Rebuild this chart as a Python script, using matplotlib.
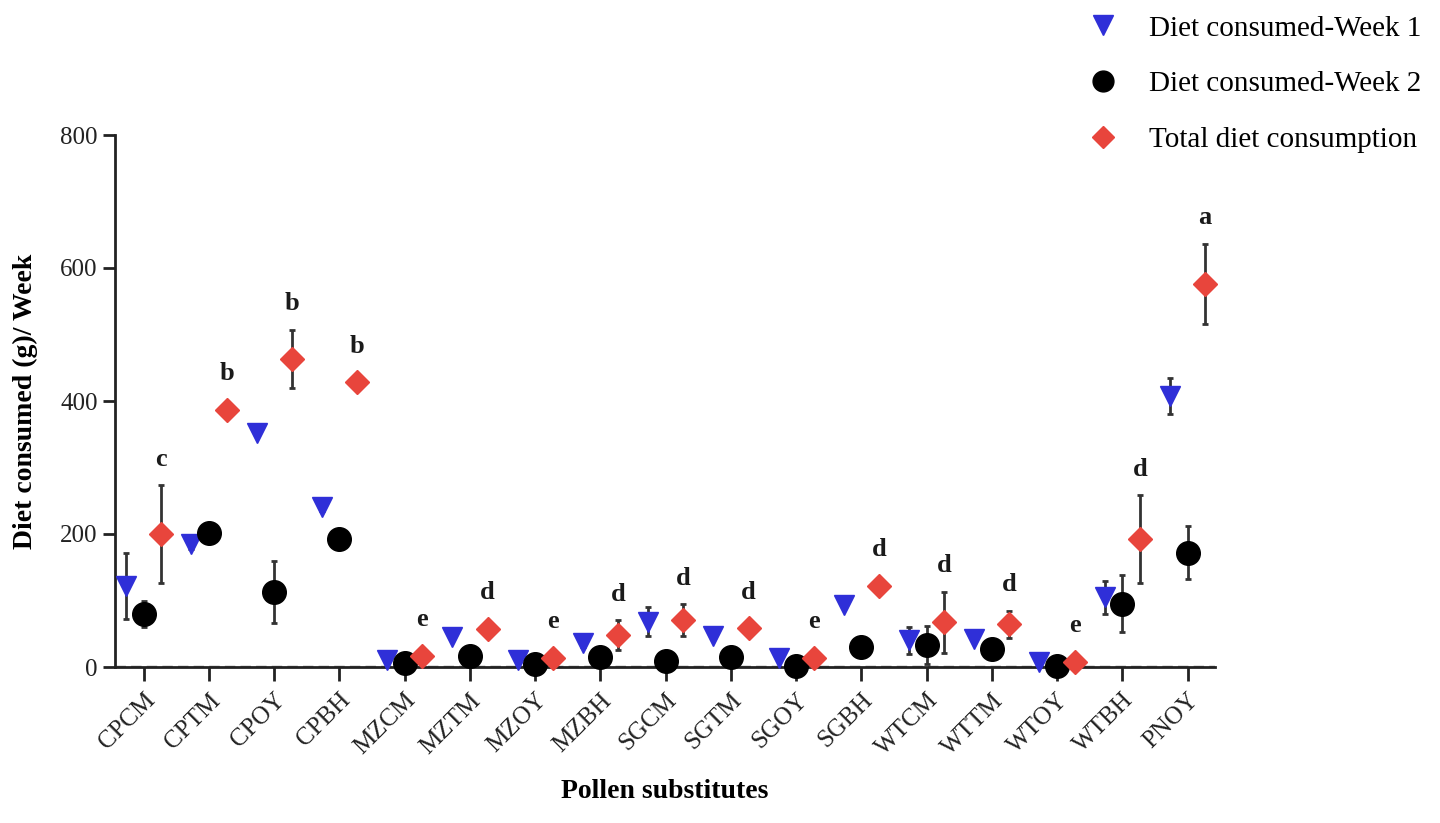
import matplotlib
matplotlib.use("Agg")
import matplotlib.pyplot as plt
from matplotlib.lines import Line2D
import numpy as np

categories = ['CPCM', 'CPTM', 'CPOY', 'CPBH', 'MZCM', 'MZTM', 'MZOY', 'MZBH', 'SGCM',
              'SGTM', 'SGOY', 'SGBH', 'WTCM', 'WTTM', 'WTOY', 'WTBH', 'PNOY']
week1 = [122, 185, 352, 240, 10, 45, 10, 36, 68, 46, 13, 93, 40, 42, 7, 105, 407]
week1_err = [50, 8, 5, 5, 3, 4, 3, 6, 22, 4, 3, 5, 20, 5, 2, 25, 27]
week2 = [80, 202, 113, 192, 6, 17, 4, 15, 9, 15, 1, 30, 33, 27, 1, 95, 172]
week2_err = [20, 5, 47, 8, 3, 5, 2, 5, 3, 4, 1, 4, 28, 6, 1, 43, 40]
total = [200, 386, 463, 428, 17, 57, 13, 48, 70, 58, 13, 122, 67, 64, 7, 192, 576]
total_err = [73, 8, 44, 5, 4, 5, 3, 22, 24, 5, 3, 5, 46, 20, 2, 66, 60]
letters = ['c', 'b', 'b', 'b', 'e', 'd', 'e', 'd', 'd', 'd', 'e', 'd', 'd', 'd', 'e', 'd', 'a']
series_names = ['Diet consumed-Week 1', 'Diet consumed-Week 2', 'Total diet consumption']

plt.rcParams['font.family'] = ['Liberation Serif', 'DejaVu Serif']

fig = plt.figure(figsize=(14.4, 8.23), dpi=100)
ax = fig.add_axes([115 / 1440, 1 - 667 / 823, (1215 - 115) / 1440, (667 - 135) / 823])

x = np.arange(len(categories))
off = 0.27
blue = '#2f2fd8'
red = '#e8453c'
ecol = '#333333'

ax.axhline(0, color='#808080', lw=2.5, ls=(0, (3, 1.5)), zorder=1)

ax.errorbar(x - off, week1, yerr=week1_err, fmt='v', color=blue, ms=15,
            ecolor=ecol, elinewidth=2, capsize=2, capthick=2, zorder=3, clip_on=False)
ax.errorbar(x, week2, yerr=week2_err, fmt='o', color='black', ms=17,
            ecolor=ecol, elinewidth=2, capsize=2, capthick=2, zorder=3, clip_on=False)
ax.errorbar(x + off, total, yerr=total_err, fmt='D', color=red, ms=12,
            ecolor=ecol, elinewidth=2, capsize=2, capthick=2, zorder=4, clip_on=False)

for xi, t, e, lab in zip(x, total, total_err, letters):
    ytop = max(t + e, t + 15)
    ax.annotate(lab, xy=(xi + off, ytop), xytext=(0, 19), textcoords='offset points',
                ha='center', va='center', fontsize=19, fontweight='bold', color='#1a1a1a')

ax.set_xlim(-0.44, 16.42)
ax.set_ylim(0, 800)
ax.set_yticks([0, 200, 400, 600, 800])
ax.set_xticks(x)
ax.set_xticklabels(categories, rotation=45, ha='right', rotation_mode='anchor', fontsize=18)
ax.tick_params(axis='y', labelsize=18, length=9, width=2, colors='#222222')
ax.tick_params(axis='x', length=10, width=2, colors='#222222', pad=6)

for s in ['top', 'right']:
    ax.spines[s].set_visible(False)
for s in ['left', 'bottom']:
    ax.spines[s].set_linewidth(2)
    ax.spines[s].set_color('#222222')

ax.set_ylabel('Diet consumed (g)/ Week', fontsize=20, fontweight='bold', labelpad=16)
ax.set_xlabel('Pollen substitutes', fontsize=20, fontweight='bold', labelpad=14)

handles = [
    Line2D([], [], ls='none', marker='v', color=blue, ms=14),
    Line2D([], [], ls='none', marker='o', color='black', ms=15),
    Line2D([], [], ls='none', marker='D', color=red, ms=11),
]
fig.legend(handles, series_names, loc='center left', bbox_to_anchor=(1088 / 1440, 1 - 84 / 823),
           frameon=False, fontsize=21, borderpad=0, borderaxespad=0, handlelength=1.0,
           handletextpad=1.1, labelspacing=1.0)

fig.savefig('out.png', dpi=100)
